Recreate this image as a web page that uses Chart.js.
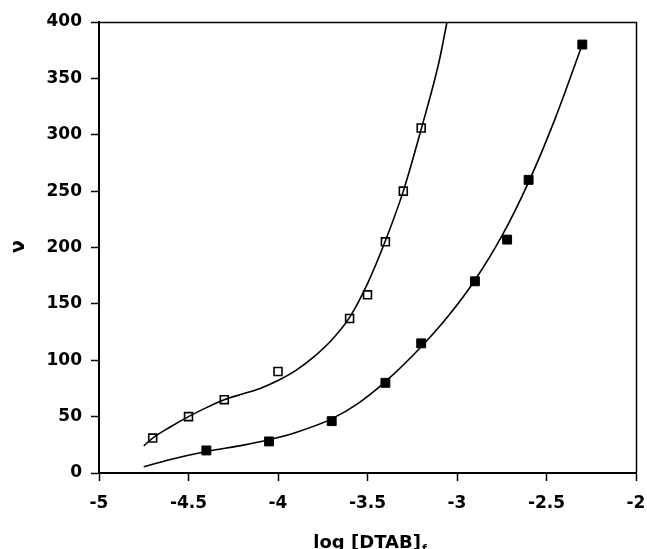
<!DOCTYPE html>
<html>
<head>
  <meta charset="UTF-8" />
  <title>log [DTAB]f vs ν</title>
  <script src="https://cdn.jsdelivr.net/npm/chart.js"></script>
  <style>
    html, body { margin: 0; padding: 0; background: #fff; }
    #chart { display: block; }
  </style>
</head>
<body>
  <canvas id="chart" width="647" height="549"></canvas>

  <script>
    // measured points (open / filled squares)
    const openX = [-4.7, -4.5, -4.3, -4.0, -3.6, -3.5, -3.4, -3.3, -3.2];
    const openNu = [31, 50, 65, 90, 137, 158, 205, 250, 306];
    const filledX = [-4.4, -4.05, -3.7, -3.4, -3.2, -2.9, -2.72, -2.6, -2.3];
    const filledNu = [20, 28, 46, 80, 115, 170, 207, 260, 380];

    // fitted curves
    const openFitX = [-4.75, -4.7, -4.6, -4.5, -4.4, -4.3, -4.2, -4.1, -4.0, -3.9, -3.8, -3.7, -3.6, -3.5, -3.4, -3.3, -3.2, -3.1, -3.056];
    const openFitNu = [24, 31, 41, 50, 58, 65, 70, 75, 82, 91, 103, 118, 138, 168, 206, 250, 305, 365, 400];
    const filledFitX = [-4.75, -4.6, -4.4, -4.2, -4.05, -3.9, -3.7, -3.55, -3.4, -3.2, -3.05, -2.9, -2.75, -2.6, -2.45, -2.3];
    const filledFitNu = [5.5, 12, 19, 24.5, 29.5, 36, 48, 62, 81, 112, 139, 171, 210, 258, 315, 380];

    const xTicks = [-5, -4.5, -4, -3.5, -3, -2.5, -2];
    const yTicks = [0, 50, 100, 150, 200, 250, 300, 350, 400];

    const pts = (xs, ys) => xs.map((x, i) => ({ x: x, y: ys[i] }));
    const family = '"DejaVu Sans", sans-serif';
    const font = { family: family, size: 17, weight: 'bold' };

    // top/right frame + axis titles
    const frame = {
      id: 'frame',
      afterDraw(chart) {
        const { ctx, chartArea: a } = chart;
        ctx.save();
        ctx.strokeStyle = '#000';
        ctx.lineWidth = 1.5;
        ctx.beginPath();
        ctx.moveTo(a.left, a.top + 0.5);
        ctx.lineTo(a.right + 0.5, a.top + 0.5);
        ctx.lineTo(a.right + 0.5, a.bottom);
        ctx.stroke();

        ctx.fillStyle = '#000';
        ctx.textBaseline = 'alphabetic';
        const main = 'log [DTAB]';
        ctx.font = 'bold 18px ' + family;
        const w = ctx.measureText(main).width;
        ctx.font = 'bold 11px ' + family;
        const ws = ctx.measureText('f').width;
        const cx = (a.left + a.right) / 2 + 2;
        const x0 = cx - (w + ws) / 2;
        ctx.font = 'bold 18px ' + family;
        ctx.fillText(main, x0, a.bottom + 75);
        ctx.font = 'bold 11px ' + family;
        ctx.fillText('f', x0 + w + 1, a.bottom + 79);

        ctx.font = 'bold 19px ' + family;
        ctx.translate(19, (a.top + a.bottom) / 2 - 1);
        ctx.rotate(-Math.PI / 2);
        ctx.textAlign = 'center';
        ctx.textBaseline = 'middle';
        ctx.fillText('ν', 0, 0);
        ctx.restore();
      }
    };

    new Chart(document.getElementById('chart'), {
      type: 'scatter',
      data: {
        datasets: [
          {
            data: pts(openFitX, openFitNu),
            showLine: true,
            borderColor: '#000',
            borderWidth: 1.6,
            pointRadius: 0,
            cubicInterpolationMode: 'monotone',
            order: 3
          },
          {
            data: pts(filledFitX, filledFitNu),
            showLine: true,
            borderColor: '#000',
            borderWidth: 1.6,
            pointRadius: 0,
            cubicInterpolationMode: 'monotone',
            order: 3
          },
          {
            data: pts(openX, openNu),
            pointStyle: 'rect',
            pointRadius: 5.6,
            pointBorderWidth: 1.6,
            pointBorderColor: '#000',
            pointBackgroundColor: 'rgba(255,255,255,0)',
            order: 1
          },
          {
            data: pts(filledX, filledNu),
            pointStyle: 'rect',
            pointRadius: 6.3,
            pointBorderWidth: 1,
            pointBorderColor: '#000',
            pointBackgroundColor: '#000',
            order: 1
          }
        ]
      },
      options: {
        responsive: false,
        animation: false,
        devicePixelRatio: 1,
        layout: { padding: { top: 22, right: 11, left: 0, bottom: 0 } },
        plugins: { legend: { display: false }, tooltip: { enabled: false } },
        scales: {
          x: {
            type: 'linear',
            min: -5,
            max: -2,
            afterBuildTicks: (s) => { s.ticks = xTicks.map(v => ({ value: v })); },
            afterFit: (s) => { s.height = 76; s.paddingLeft = 0; s.paddingRight = 0; },
            ticks: { color: '#000', font: font, padding: 12, maxRotation: 0, callback: (v) => String(v) },
            grid: { drawOnChartArea: false, tickLength: 8, color: '#000', tickWidth: 1.5 },
            border: { color: '#000', width: 2 }
          },
          y: {
            min: 0,
            max: 400,
            afterBuildTicks: (s) => { s.ticks = yTicks.map(v => ({ value: v })); },
            afterFit: (s) => { s.width = 99; s.paddingTop = 0; s.paddingBottom = 0; },
            ticks: { color: '#000', font: font, padding: 9, callback: (v) => String(v) },
            grid: { drawOnChartArea: false, tickLength: 8, color: '#000', tickWidth: 1.5 },
            border: { color: '#000', width: 2 }
          }
        }
      },
      plugins: [frame]
    });
  </script>
</body>
</html>
